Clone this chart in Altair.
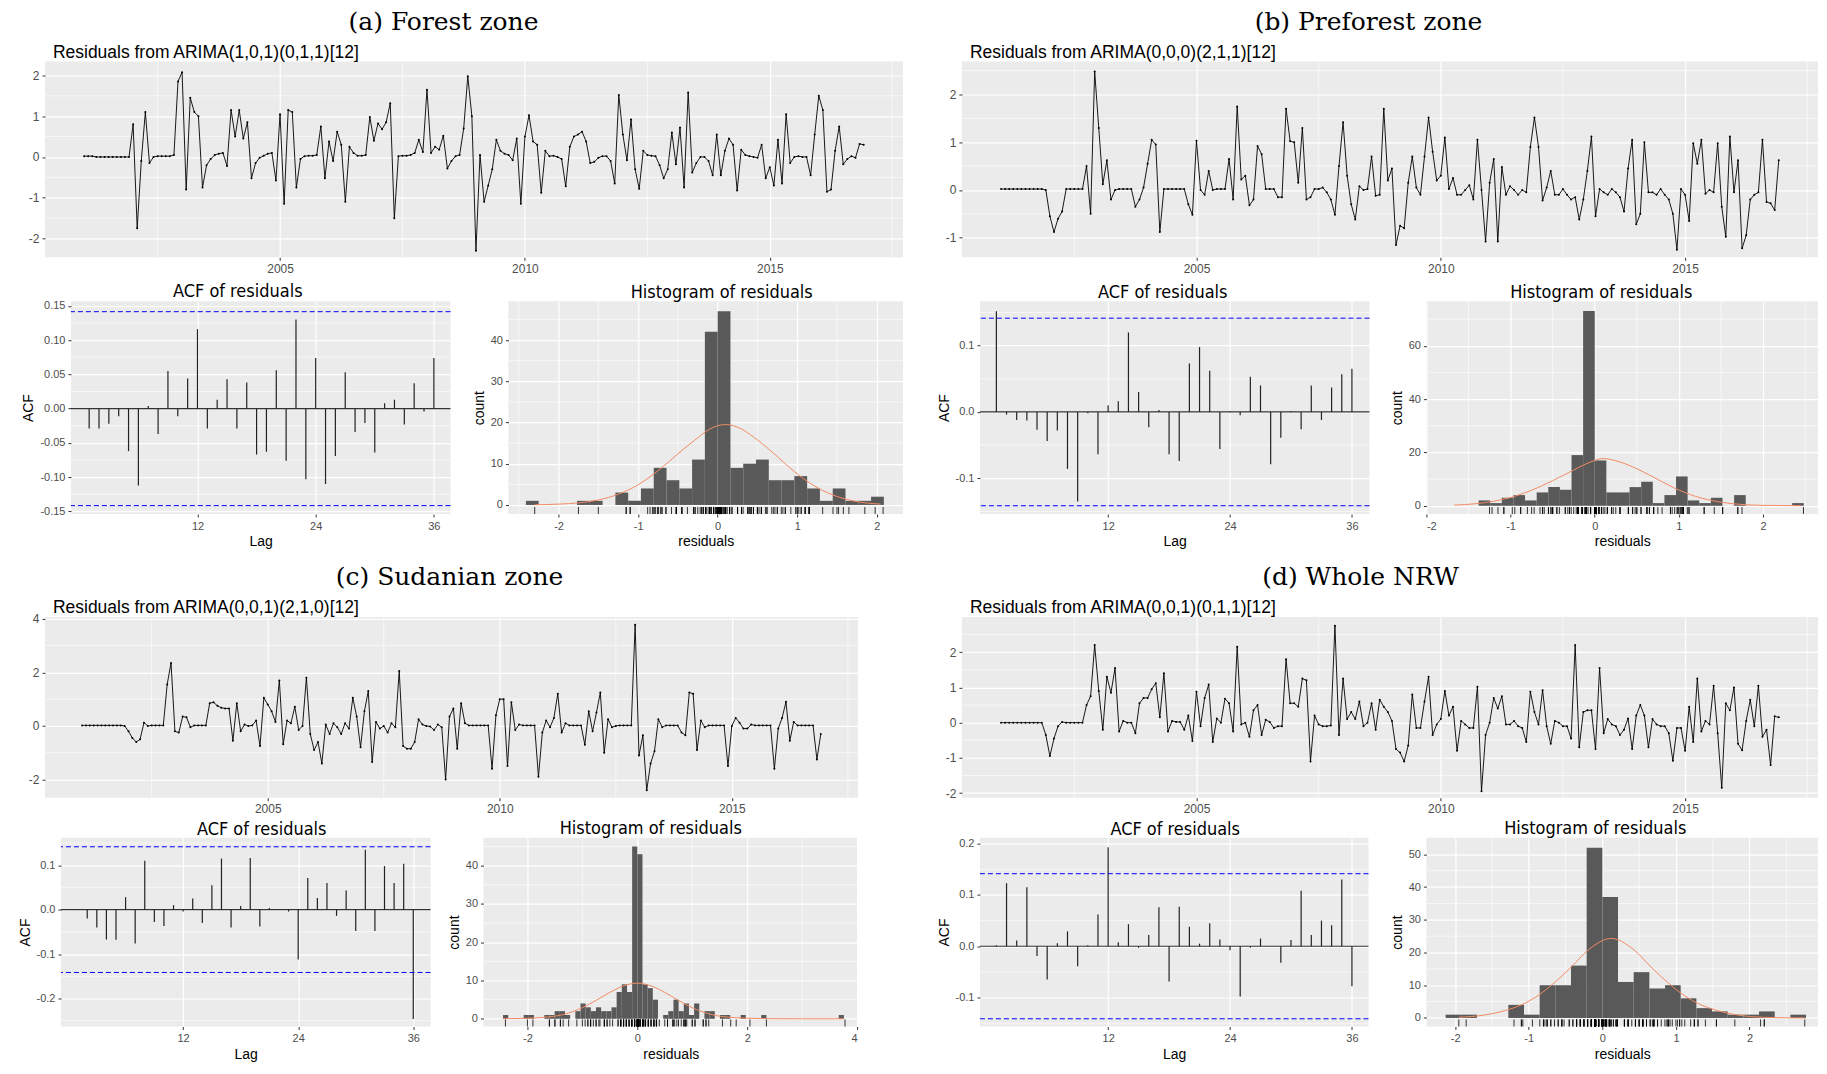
import altair as alt
import pandas as pd

# ---------------- data ----------------
ZONE_TITLES = ["(a) Forest zone", "(b) Preforest zone", "(c) Sudanian zone", "(d) Whole NRW"]
SUBTITLES = ["Residuals from ARIMA(1,0,1)(0,1,1)[12]", "Residuals from ARIMA(0,0,0)(2,1,1)[12]",
             "Residuals from ARIMA(0,0,1)(2,1,0)[12]", "Residuals from ARIMA(0,0,1)(0,1,1)[12]"]
T_START = 2001  # monthly series, Jan 2001 .. Dec 2016

RES_A = [
    0.02, 0.02, 0.02, 0.0, 0.0, 0.0, 0.0, 0.0, 0.0, 0.0, 0.0, 0.0,
    0.8, -1.75, -0.1, 1.1, -0.15, 0.0, 0.02, 0.02, 0.02, 0.02, 0.05, 1.85,
    2.08, -0.8, 1.45, 1.1, 1.0, -0.75, -0.2, -0.05, 0.05, 0.08, 0.1, -0.22,
    1.15, 0.5, 1.15, 0.45, 0.85, -0.52, -0.15, -0.02, 0.03, 0.08, 0.1, -0.58,
    1.05, -1.15, 1.15, 1.1, -0.75, -0.05, 0.02, 0.03, 0.03, 0.05, 0.75, -0.52,
    0.38, -0.1, 0.62, 0.3, -1.1, 0.25, 0.1, 0.03, 0.03, 0.05, 0.98, 0.4,
    0.82, 0.68, 0.85, 1.32, -1.5, 0.02, 0.03, 0.03, 0.05, 0.1, 0.42, 0.12,
    1.65, 0.1, 0.25, 0.18, 0.52, -0.28, -0.1, 0.02, 0.05, 0.7, 1.98, 1.0,
    -2.3, 0.05, -1.1, -0.7, -0.3, 0.42, 0.15, 0.08, 0.05, -0.08, 0.45, -1.15,
    0.5, 1.02, 0.38, 0.3, -0.88, 0.15, 0.02, 0.03, 0.0, -0.05, -0.72, 0.25,
    0.5, 0.55, 0.62, 0.38, -0.15, -0.12, -0.02, 0.02, 0.02, -0.1, -0.65, 1.52,
    0.55, -0.08, 0.92, -0.3, -0.78, 0.15, 0.05, 0.03, 0.02, -0.2, -0.52, -0.3,
    0.6, -0.18, 0.72, -0.75, 1.58, -0.38, -0.15, 0.0, 0.0, -0.1, -0.45, 0.55,
    -0.45, 0.15, 0.45, 0.3, -0.82, 0.18, 0.05, 0.02, 0.0, -0.02, 0.3, -0.52,
    -0.25, -0.7, 0.42, -0.65, 1.05, -0.15, 0.0, 0.02, 0.0, 0.0, -0.45, 0.55,
    1.5, 1.15, -0.85, -0.8, 0.15, 0.75, -0.18, -0.05, 0.02, -0.02, 0.32, 0.3,
]
RES_B = [
    0.02, 0.02, 0.02, 0.02, 0.02, 0.02, 0.02, 0.02, 0.02, 0.02, 0.02, 0.0,
    -0.55, -0.88, -0.6, -0.45, 0.02, 0.02, 0.02, 0.02, 0.02, 0.5, -0.5, 2.48,
    1.3, 0.12, 0.62, -0.2, 0.0, 0.02, 0.02, 0.02, 0.02, -0.35, -0.2, 0.05,
    0.55, 1.05, 0.95, -0.88, 0.02, 0.02, 0.02, 0.02, 0.02, 0.02, -0.3, -0.52,
    1.03, 0.0, -0.1, 0.4, 0.0, 0.02, 0.02, 0.02, 0.65, -0.2, 1.75, 0.22,
    0.3, -0.32, -0.2, 0.92, 0.75, 0.02, 0.02, 0.02, -0.15, -0.15, 1.7, 1.02,
    1.0, 0.15, 1.3, -0.2, -0.15, 0.02, 0.02, 0.05, -0.05, -0.2, -0.52, 0.5,
    1.42, 0.3, -0.3, -0.62, 0.08, 0.0, 0.02, 0.7, -0.12, -0.1, 1.7, 0.2,
    0.45, -1.15, -0.75, -0.8, 0.15, 0.7, 0.05, -0.1, 0.7, 1.52, 0.8, 0.2,
    0.3, 1.1, 0.02, 0.25, -0.1, -0.1, 0.0, 0.1, -0.2, 1.05, 0.0, -1.08,
    0.15, 0.65, -1.08, 0.48, -0.1, 0.08, 0.0, -0.1, 0.0, -0.05, 0.9, 1.52,
    0.9, -0.22, 0.05, 0.4, -0.1, -0.1, 0.02, -0.1, -0.2, -0.15, -0.62, -0.2,
    0.4, 1.12, -0.55, 0.02, -0.05, -0.1, 0.02, -0.05, -0.15, -0.45, 0.45, 1.05,
    -0.72, -0.5, 1.0, -0.05, -0.05, -0.1, 0.02, -0.1, -0.2, -0.5, -1.25, 0.02,
    -0.1, -0.65, 0.98, 0.55, 1.05, -0.08, 0.0, -0.05, 0.98, -0.35, -0.98, 1.12,
    -0.05, 0.62, -1.22, -0.95, -0.2, -0.1, -0.05, 1.05, -0.25, -0.28, -0.42, 0.62,
]
RES_C = [
    0.02, 0.02, 0.02, 0.02, 0.02, 0.02, 0.02, 0.02, 0.02, 0.02, 0.02, 0.0,
    -0.2, -0.45, -0.6, -0.5, 0.12, 0.0, 0.02, 0.02, 0.02, 0.02, 1.55, 2.35,
    -0.2, -0.25, 0.35, 0.32, -0.05, 0.02, 0.02, 0.02, 0.02, 0.85, 0.88, 0.75,
    0.68, 0.65, 0.65, -0.55, 0.85, -0.2, 0.05, 0.0, 0.02, 0.2, -0.75, 1.05,
    0.8, 0.55, 0.15, 1.7, -0.68, 0.2, 0.1, 0.72, -0.15, 0.0, 1.8, -0.3,
    -0.9, -0.6, -1.4, 0.05, -0.3, 0.1, -0.05, -0.3, 0.1, -0.1, 1.05, 0.35,
    -0.8, 0.55, 1.3, -1.35, 0.15, -0.1, 0.0, -0.25, 0.1, -0.05, 2.05, -0.75,
    -0.85, -0.85, -0.6, 0.25, 0.05, 0.0, -0.02, -0.15, 0.05, -0.05, -2.0, 0.35,
    0.65, -0.85, 0.85, 0.1, 0.02, 0.02, 0.02, 0.02, 0.02, 0.02, -1.6, 0.4,
    1.0, 1.0, -1.5, 0.88, -0.15, 0.05, 0.02, 0.02, 0.02, 0.02, -1.9, -0.25,
    0.2, -0.05, 0.3, 1.2, -0.25, 0.1, 0.02, 0.02, 0.02, 0.02, -0.7, 0.55,
    -0.2, 0.5, 1.25, -1.0, 0.25, -0.05, 0.0, 0.02, 0.02, 0.02, 0.02, 3.78,
    -1.1, -0.35, -2.4, -1.4, -0.95, 0.25, -0.05, 0.02, 0.02, 0.02, 0.02, -0.25,
    -0.35, 1.25, 1.2, -0.9, 0.2, -0.05, 0.02, 0.02, 0.02, 0.02, 0.02, -1.5,
    0.0, 0.3, 0.12, -0.1, -0.1, 0.05, 0.02, 0.02, 0.02, 0.02, 0.02, -1.6,
    -0.1, 0.3, 0.9, -0.55, 0.15, 0.02, 0.02, 0.02, 0.02, 0.02, -1.25, -0.3,
]
RES_D = [
    0.0, 0.0, 0.0, 0.0, 0.0, 0.0, 0.0, 0.0, 0.0, 0.0, 0.0, -0.35,
    -0.95, -0.45, -0.1, 0.02, 0.0, 0.0, 0.0, 0.0, 0.0, 0.5, 0.75, 2.2,
    0.9, -0.2, 1.3, 0.85, 1.55, -0.25, 0.05, 0.0, 0.0, -0.3, 0.55, 0.7,
    0.7, 0.95, 1.12, 0.15, 1.4, -0.25, 0.05, 0.02, 0.02, -0.2, 0.2, -0.52,
    0.88, -0.1, 0.7, 1.08, -0.55, 0.12, 0.0, 0.68, 0.55, -0.25, 2.15, -0.05,
    0.0, -0.4, 0.35, 0.5, -0.35, 0.08, 0.02, -0.15, -0.1, -0.1, 1.8, 0.55,
    0.55, 0.45, 1.25, 1.2, -1.1, 0.2, -0.05, -0.1, -0.1, -0.08, 2.75, -0.35,
    1.25, 0.1, 0.3, 0.1, 0.6, -0.1, 0.0, 0.55, -0.2, 0.65, 0.45, 0.3,
    0.05, -0.75, -0.85, -1.1, -0.65, 0.8, -0.15, -0.15, 0.6, 1.3, -0.35, -0.05,
    0.1, 0.9, 0.2, 0.45, -0.8, 0.05, -0.05, -0.15, -0.15, 1.02, -1.95, -0.35,
    0.0, 0.7, 0.4, 0.75, -0.05, -0.05, 0.05, -0.1, -0.15, -0.55, 0.88, 0.3,
    -0.05, 0.92, -0.1, -0.6, 0.05, 0.0, -0.1, -0.1, -0.45, 2.2, -0.7, 0.3,
    0.35, 0.35, -0.75, 1.55, -0.3, 0.1, -0.05, -0.1, -0.35, -0.2, 0.12, -0.75,
    0.2, 0.5, 0.2, -0.7, 0.1, -0.05, -0.1, -0.1, -0.3, -1.08, -0.15, -0.15,
    -0.8, 0.45, -0.55, 1.25, -0.25, 0.05, -0.05, 1.05, -0.3, -1.85, 0.55, 0.35,
    1.0, -0.6, -0.78, 0.05, 0.65, -0.1, 1.05, -0.4, -0.2, -1.2, 0.18, 0.15,
]

ACF_LAGS = list(range(1, 37))
ACF_A = [-0.029, -0.029, -0.022, -0.011, -0.062, -0.112, 0.004, -0.037, 0.055, -0.011, 0.044, 0.116,
         -0.029, 0.013, 0.043, -0.029, 0.038, -0.067, -0.063, 0.056, -0.076, 0.130, -0.103, 0.074,
         -0.110, -0.069, 0.053, -0.034, -0.021, -0.064, 0.008, 0.013, -0.023, 0.037, -0.004, 0.074]
ACF_B = [0.152, -0.004, -0.012, -0.013, -0.027, -0.044, -0.028, -0.086, -0.135, -0.002, -0.064, 0.010,
         0.016, 0.120, 0.030, -0.023, 0.003, -0.064, -0.074, 0.073, 0.098, 0.062, -0.056, 0.001,
         -0.005, 0.053, 0.040, -0.079, -0.039, 0.001, -0.026, 0.040, -0.012, 0.037, 0.057, 0.065]
ACF_C = [0.001, -0.020, -0.040, -0.067, -0.068, 0.028, -0.076, 0.110, -0.028, -0.037, 0.010, -0.004,
         0.025, -0.030, 0.055, 0.115, -0.040, 0.008, 0.116, -0.038, 0.004, 0.0, -0.004, -0.112,
         0.071, 0.026, 0.060, -0.014, 0.043, -0.048, 0.135, -0.048, 0.098, 0.060, 0.103, -0.246]
ACF_D = [0.002, 0.123, 0.011, 0.115, -0.019, -0.065, 0.006, 0.029, -0.039, 0.002, 0.062, 0.193,
         0.008, 0.043, -0.003, 0.022, 0.076, -0.069, 0.077, 0.038, 0.005, 0.045, 0.013, -0.008,
         -0.098, -0.003, 0.015, 0.0, -0.032, 0.012, 0.108, 0.022, 0.050, 0.041, 0.130, -0.078]
ACF_BOUNDS = [0.1415, -0.1415]

HIST_A_START, HIST_A_WIDTH = -2.4105, 0.1607
HIST_A_COUNTS = [1, 0, 0, 0, 1, 1, 0, 3, 1, 4, 9, 6, 4, 11, 42, 47, 9, 10, 11, 6, 6, 7, 4, 1, 4, 1, 1, 2]
HIST_B_START, HIST_B_WIDTH = -1.38, 0.138
HIST_B_COUNTS = [2, 1, 3, 4, 2, 5, 7, 6, 19, 73, 17, 5, 5, 7, 9, 1, 4, 11, 2, 1, 3, 0, 4, 0, 0, 0, 0, 1]
HIST_C_START, HIST_C_WIDTH = -2.444, 0.094
HIST_C_COUNTS = [1, 0, 0, 0, 1, 1, 0, 0, 1, 1,
                 2, 2, 1, 0, 2, 4, 3, 2, 3, 2,
                 2, 3, 7, 9, 7, 45, 43, 9, 8, 5,
                 0, 1, 2, 5, 2, 4, 1, 4, 0, 2,
                 2, 0, 1, 1, 0, 0, 1, 0, 0, 0,
                 1, 0, 0, 0, 0, 0, 0, 0, 0, 0,
                 0, 0, 0, 0, 0, 1]
HIST_D_START, HIST_D_WIDTH = -2.129, 0.2129
HIST_D_COUNTS = [1, 1, 0, 0, 4, 1, 10, 10, 16, 52, 37, 11, 14, 9, 10, 6, 3, 2, 1, 1, 2, 0, 1]

NORM_A_X = [-2.3, -2.0, -1.75, -1.5, -1.25, -1.0, -0.75, -0.5, -0.25, -0.1, 0.1, 0.3, 0.45, 0.7, 0.95, 1.2, 1.45, 1.7, 2.05]
NORM_A_Y = [0.05, 0.2, 0.5, 1.2, 2.6, 4.9, 8.3, 12.4, 16.3, 18.4, 19.5, 18.4, 16.5, 12.6, 8.3, 4.8, 2.4, 1.0, 0.2]
NORM_B_X = [-1.67, -1.4, -1.2, -1.0, -0.75, -0.5, -0.25, -0.05, 0.1, 0.25, 0.45, 0.7, 0.95, 1.2, 1.45, 1.7, 2.0, 2.45]
NORM_B_Y = [0.25, 0.8, 1.7, 3.1, 5.8, 9.4, 13.4, 16.4, 17.7, 16.9, 14.6, 10.7, 6.6, 3.5, 1.6, 0.6, 0.15, 0.02]
NORM_C_X = [-2.45, -2.0, -1.6, -1.3, -1.0, -0.75, -0.5, -0.25, 0.0, 0.25, 0.5, 0.75, 1.0, 1.3, 1.6, 2.0, 2.5, 3.0, 3.75]
NORM_C_Y = [0.02, 0.15, 0.5, 1.3, 2.9, 4.8, 6.9, 8.6, 9.3, 8.6, 6.9, 4.8, 2.9, 1.3, 0.5, 0.15, 0.02, 0.0, 0.0]
NORM_D_X = [-1.95, -1.6, -1.3, -1.1, -0.87, -0.65, -0.42, -0.19, 0.12, 0.43, 0.66, 0.89, 1.11, 1.34, 1.54, 1.84, 2.19, 2.5, 2.75]
NORM_D_Y = [0.2, 0.9, 2.4, 4.0, 6.9, 10.8, 15.6, 20.8, 24.3, 20.8, 15.6, 10.8, 6.9, 4.0, 2.4, 0.9, 0.2, 0.05, 0.0]

TS_TICKS = [2005, 2010, 2015]
TS_MINOR = [2002.5, 2007.5, 2012.5, 2017.5]

# ---------------- styling ----------------
SANS = "Liberation Sans, Arial, sans-serif"
NARROW = "Liberation Sans Narrow, Arial Narrow, DejaVu Sans Condensed, Liberation Sans, sans-serif"
SERIF = "DejaVu Serif, serif"
MINUS_FIX = "replace(datum.label, '\u2212', '-')"
GRID_MINOR_W = 0.6
PANEL_TITLE_SIZE = 18


def minor_rules(values, channel, scale, axis):
    df = pd.DataFrame({"g": values})
    enc = {channel: alt.X("g:Q", scale=scale, axis=axis) if channel == "x"
           else alt.Y("g:Q", scale=scale, axis=axis)}
    return alt.Chart(df).mark_rule(color="white", strokeWidth=GRID_MINOR_W).encode(**enc)


def spacer(w, h):
    return (alt.Chart(pd.DataFrame({"s": [0]}))
            .mark_point(opacity=0, size=0)
            .encode(x=alt.value(0), y=alt.value(0))
            .properties(width=w, height=h,
                        view=alt.ViewBackground(fill="transparent", stroke="transparent")))


def panel_title(text, dx):
    return alt.TitleParams(text, font=NARROW, fontSize=PANEL_TITLE_SIZE, fontWeight="normal",
                           color="black", anchor="middle", dx=dx, offset=-1)


def ts_panel(vals, ydom, ymaj, ymin, W, H, zone, sub, zx, zy):
    df = pd.DataFrame({"t": [T_START + i / 12 for i in range(len(vals))], "r": vals})
    xs = alt.Scale(domain=[2000.2, 2017.72], nice=False, zero=False)
    ys = alt.Scale(domain=ydom, nice=False, zero=False)
    xax = alt.Axis(values=TS_TICKS, format="d", title=None, labelFontSize=12)
    yax = alt.Axis(values=ymaj, format="d", title=None, labelFontSize=12, labelExpr=MINUS_FIX)
    line = alt.Chart(df).mark_line(color="black", strokeWidth=0.9).encode(
        x=alt.X("t:Q", scale=xs, axis=xax), y=alt.Y("r:Q", scale=ys, axis=yax))
    pts = alt.Chart(df).mark_circle(color="black", size=4, opacity=1).encode(
        x=alt.X("t:Q", scale=xs, axis=xax), y=alt.Y("r:Q", scale=ys, axis=yax))
    ztxt = alt.Chart(pd.DataFrame({"s": [zone]})).mark_text(
        font=SERIF, fontSize=25, align="center", baseline="alphabetic", color="black"
    ).encode(text="s:N", x=alt.value(zx), y=alt.value(zy))
    stxt = alt.Chart(pd.DataFrame({"s": [sub]})).mark_text(
        font=SANS, fontSize=17.5, align="left", baseline="alphabetic", color="black"
    ).encode(text="s:N", x=alt.value(8), y=alt.value(-4))
    return alt.layer(minor_rules(TS_MINOR, "x", xs, xax), minor_rules(ymin, "y", ys, yax),
                     line, pts, ztxt, stxt).properties(width=W, height=H)


def acf_panel(vals, xdom, ydom, ymaj, ymin, fmt, W, H, dx):
    df = pd.DataFrame({"lag": ACF_LAGS, "acf": vals})
    xs = alt.Scale(domain=xdom, nice=False, zero=False)
    ys = alt.Scale(domain=ydom, nice=False, zero=False)
    xax = alt.Axis(values=[12, 24, 36], format="d", title="Lag")
    yax = alt.Axis(values=ymaj, format=fmt, title="ACF", labelExpr=MINUS_FIX)
    stems = alt.Chart(df).mark_rule(color="#222222", strokeWidth=1.2).encode(
        x=alt.X("lag:Q", scale=xs, axis=xax),
        y=alt.Y("acf:Q", scale=ys, axis=yax),
        y2=alt.datum(0),
    )
    zero = alt.Chart(pd.DataFrame({"z": [0]})).mark_rule(color="#333333", strokeWidth=1.2).encode(
        y=alt.Y("z:Q", scale=ys, axis=yax))
    ci = alt.Chart(pd.DataFrame({"c": ACF_BOUNDS})).mark_rule(
        color="#0000FF", strokeWidth=1, strokeDash=[5, 3]).encode(y=alt.Y("c:Q", scale=ys, axis=yax))
    return alt.layer(minor_rules(ymin, "y", ys, yax), zero, stems, ci).properties(
        width=W, height=H, title=panel_title("ACF of residuals", dx))


def hist_panel(start, bw, counts, nx, ny, resid, xdom, ydom, xmaj, xmin, ymaj, ymin, W, H, dx):
    bins = pd.DataFrame({
        "lo": [start + i * bw for i in range(len(counts))],
        "hi": [start + (i + 1) * bw for i in range(len(counts))],
        "n": counts,
    })
    bins = bins[bins["n"] > 0]
    xs = alt.Scale(domain=xdom, nice=False, zero=False)
    ys = alt.Scale(domain=ydom, nice=False, zero=False)
    xax = alt.Axis(values=xmaj, format="d", title="residuals", labelExpr=MINUS_FIX)
    yax = alt.Axis(values=ymaj, format="d", title="count")
    bars = alt.Chart(bins).mark_rect(color="#595959").encode(
        x=alt.X("lo:Q", scale=xs, axis=xax), x2="hi:Q",
        y=alt.Y("n:Q", scale=ys, axis=yax), y2=alt.datum(0),
    )
    curve = alt.Chart(pd.DataFrame({"nx": nx, "ny": ny})).mark_line(
        color="#F28B62", strokeWidth=1, interpolate="monotone").encode(
        x=alt.X("nx:Q", scale=xs, axis=xax), y=alt.Y("ny:Q", scale=ys, axis=yax))
    rug = alt.Chart(pd.DataFrame({"r": resid})).mark_rule(color="black", strokeWidth=0.8).encode(
        x=alt.X("r:Q", scale=xs, axis=xax), y=alt.value(H - 7), y2=alt.value(H))
    return alt.layer(minor_rules(xmin, "x", xs, xax), minor_rules(ymin, "y", ys, yax),
                     bars, curve, rug).properties(
        width=W, height=H, title=panel_title("Histogram of residuals", dx))


# ---------------- panels ----------------
H1, H2, H3, H4 = 196, 213, 181, 189

ts_a = ts_panel(RES_A, [-2.46, 2.34], [-2, -1, 0, 1, 2], [-1.5, -0.5, 0.5, 1.5], 859, H1,
                ZONE_TITLES[0], SUBTITLES[0], 399, -32)
ts_b = ts_panel(RES_B, [-1.41, 2.69], [-1, 0, 1, 2], [-0.5, 0.5, 1.5, 2.5], 857, H1,
                ZONE_TITLES[1], SUBTITLES[1], 407, -32)
ts_c = ts_panel(RES_C, [-2.68, 4.07], [-2, 0, 2, 4], [-1, 1, 3], 814, H3,
                ZONE_TITLES[2], SUBTITLES[2], 405, -31.5)
ts_d = ts_panel(RES_D, [-2.13, 3.0], [-2, -1, 0, 1, 2], [-1.5, -0.5, 0.5, 1.5, 2.5], 857, H3,
                ZONE_TITLES[3], SUBTITLES[3], 399, -31.5)

acf_a = acf_panel(ACF_A, [-0.85, 37.69], [-0.1538, 0.1567],
                  [-0.15, -0.10, -0.05, 0.0, 0.05, 0.10, 0.15],
                  [-0.125, -0.075, -0.025, 0.025, 0.075, 0.125], ".2f", 380, H2, -23)
acf_b = acf_panel(ACF_B, [-0.62, 37.73], [-0.154, 0.167], [-0.1, 0.0, 0.1],
                  [-0.15, -0.05, 0.05, 0.15], ".1f", 390, H2, -12)
acf_c = acf_panel(ACF_C, [-0.74, 37.8], [-0.263, 0.162], [-0.2, -0.1, 0.0, 0.1],
                  [-0.25, -0.15, -0.05, 0.05, 0.15], ".1f", 370, H4, 16)
acf_d = acf_panel(ACF_D, [-0.62, 37.63], [-0.1565, 0.2118], [-0.1, 0.0, 0.1, 0.2],
                  [-0.15, -0.05, 0.05, 0.15], ".1f", 389, H4, 1)

hist_a = hist_panel(HIST_A_START, HIST_A_WIDTH, HIST_A_COUNTS, NORM_A_X, NORM_A_Y, RES_A,
                    [-2.63, 2.33], [-2.2, 49.4], [-2, -1, 0, 1, 2], [-2.5, -1.5, -0.5, 0.5, 1.5],
                    [0, 10, 20, 30, 40], [5, 15, 25, 35, 45], 395, H2, 16)
hist_b = hist_panel(HIST_B_START, HIST_B_WIDTH, HIST_B_COUNTS, NORM_B_X, NORM_B_Y, RES_B,
                    [-2.0, 2.653], [-3.1, 76.7], [-2, -1, 0, 1, 2], [-1.5, -0.5, 0.5, 1.5, 2.5],
                    [0, 20, 40, 60], [10, 30, 50, 70], 392, H2, -21)
hist_c = hist_panel(HIST_C_START, HIST_C_WIDTH, HIST_C_COUNTS, NORM_C_X, NORM_C_Y, RES_C,
                    [-2.8, 4.018], [-2.0, 47.3], [-2, 0, 2, 4], [-1, 1, 3],
                    [0, 10, 20, 30, 40], [5, 15, 25, 35, 45], 375, H4, -20)
hist_d = hist_panel(HIST_D_START, HIST_D_WIDTH, HIST_D_COUNTS, NORM_D_X, NORM_D_Y, RES_D,
                    [-2.39, 2.93], [-2.6, 55.1], [-2, -1, 0, 1, 2, 3], [-1.5, -0.5, 0.5, 1.5, 2.5],
                    [0, 10, 20, 30, 40, 50], [5, 15, 25, 35, 45], 392, H4, -27)

row1 = alt.hconcat(ts_a, spacer(59, 1), ts_b, spacing=0, bounds="flush")
row2 = alt.hconcat(spacer(26, 1), acf_a, spacer(58, 1), hist_a, spacer(77, 1), acf_b, spacer(57, 1), hist_b,
                   spacing=0, bounds="flush")
row3 = alt.hconcat(ts_c, spacer(104, 1), ts_d, spacing=0, bounds="flush")
row4 = alt.hconcat(spacer(16, 1), acf_c, spacer(53, 1), hist_c, spacer(122, 1), acf_d, spacer(58, 1), hist_d,
                   spacing=0, bounds="flush")

top = alt.vconcat(row1, row2, spacing=8)
bottom = alt.vconcat(row3, row4, spacing=5)
chart = alt.vconcat(top, bottom, spacing=16).properties(
    padding={"left": 10, "top": 1, "right": 0, "bottom": 0}
).configure(background="white").configure_view(
    fill="#EBEBEB", stroke=None
).configure_axis(
    domain=False, tickColor="#333333", tickSize=3, tickWidth=1,
    labelColor="#4D4D4D", labelFont=SANS, labelFontSize=11, labelPadding=3,
    titleFont=SANS, titleFontSize=14, titleFontWeight="normal", titleColor="black", titlePadding=4,
    gridColor="white", gridWidth=1.2,
)

chart.save("out.html", embed_options={"renderer": "svg", "actions": False})
